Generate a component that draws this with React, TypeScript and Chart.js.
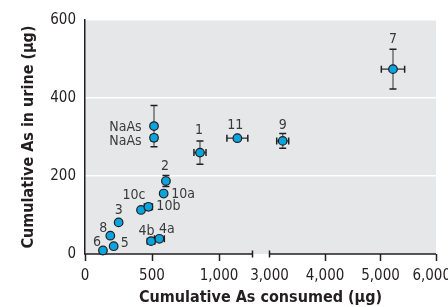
import React, { useEffect, useRef } from 'react';
import { Chart, LinearScale, registerables } from 'chart.js';

Chart.register(...registerables);

// ---------- data ----------
const pointLabels = ['6', '5', '8', '3', '4b', '4a', '10c', '10b', '10a', '2', 'NaAs', 'NaAs', '1', '11', '9', '7'];
const consumedUg = [134, 214, 189, 251, 493, 555, 418, 473, 587, 604, 515, 515, 858, 1137, 3238, 5225];
const urineUg = [9, 20, 47, 81, 33, 39, 113, 121, 155, 187, 328, 298, 260, 297, 290, 474];
const consumedErr = [0, 0, 0, 0, 28, 37, 0, 30, 0, 0, 0, 0, 45, 78, 108, 210];
const urineErr = [0, 0, 0, 0, 0, 0, 0, 8, 0, 14, 53, 8, 30, 0, 19, 51];
const xTickValues = [0, 500, 1000, 3000, 4000, 5000, 6000];
const yTickValues = [0, 200, 400, 600];
const xTitle = 'Cumulative As consumed (μg)';
const yTitle = 'Cumulative As in urine (μg)';

// ---------- styling / layout ----------
const FONT = "'Liberation Sans Narrow', 'DejaVu Sans Condensed', 'Arial Narrow', sans-serif";
const INK = '#231f20';
const labelOffsets: [number, number][] = [
  [-6, -8], [11, -3], [-7, -7.5], [0, -12.5], [-4.5, -10], [7.5, -9], [-7, -15], [20, 0],
  [19.5, 1], [-1, -15], [-28.5, 1.5], [-28.5, 4], [-1, -22], [-2, -13], [0, -16], [0, -30],
];

// broken x axis: [0, 1250] then gap then [3000, 6000]
const SEG1_MAX = 1250;
const SEG2_MIN = 3000;
const X_MAX = 6000;
const SEG1_END = 167.5 / 351;
const SEG2_START = 184.5 / 351;

function toDecimal(v: number): number {
  if (v <= SEG1_MAX) return (v / SEG1_MAX) * SEG1_END;
  if (v >= SEG2_MIN) return SEG2_START + ((v - SEG2_MIN) / (X_MAX - SEG2_MIN)) * (1 - SEG2_START);
  return SEG1_END + ((v - SEG1_MAX) / (SEG2_MIN - SEG1_MAX)) * (SEG2_START - SEG1_END);
}
function fromDecimal(d: number): number {
  if (d <= SEG1_END) return (d / SEG1_END) * SEG1_MAX;
  if (d >= SEG2_START) return SEG2_MIN + ((d - SEG2_START) / (1 - SEG2_START)) * (X_MAX - SEG2_MIN);
  return SEG1_MAX + ((d - SEG1_END) / (SEG2_START - SEG1_END)) * (SEG2_MIN - SEG1_MAX);
}

class BrokenLinearScale extends LinearScale {
  static id = 'brokenLinear';
  static defaults = LinearScale.defaults;
  buildTicks() {
    return xTickValues.map((value) => ({ value }));
  }
  getPixelForValue(value: any) {
    if (value === null || value === undefined) return NaN;
    return this.getPixelForDecimal(toDecimal(value));
  }
  getValueForPixel(pixel: number) {
    return fromDecimal(this.getDecimalForPixel(pixel));
  }
}
Chart.register(BrokenLinearScale as any);

const backgroundPlugin = {
  id: 'plotBackground',
  beforeDraw(chart: any) {
    const { ctx, chartArea } = chart;
    ctx.save();
    ctx.fillStyle = '#e6e7e8';
    ctx.fillRect(chartArea.left, chartArea.top, chartArea.right - chartArea.left, chartArea.bottom - chartArea.top);
    ctx.restore();
  },
};

const axisAndErrorPlugin = {
  id: 'brokenAxisErrors',
  beforeDatasetsDraw(chart: any) {
    const { ctx, chartArea, scales } = chart;
    const xs = scales.x;
    const ys = scales.y;
    ctx.save();
    // broken x axis line
    const b = chartArea.bottom;
    const p1 = xs.getPixelForValue(SEG1_MAX);
    const p2 = xs.getPixelForValue(SEG2_MIN);
    ctx.strokeStyle = INK;
    ctx.lineWidth = 1.5;
    ctx.beginPath();
    ctx.moveTo(chartArea.left - 0.75, b);
    ctx.lineTo(p1, b);
    ctx.moveTo(p2, b);
    ctx.lineTo(chartArea.right, b);
    ctx.moveTo(p1, b - 3.5);
    ctx.lineTo(p1, b + 3.5);
    ctx.moveTo(p2, b - 3.5);
    ctx.lineTo(p2, b + 3.5);
    ctx.stroke();

    // error bars
    const cap = 3.5;
    for (let i = 0; i < consumedUg.length; i++) {
      const px = xs.getPixelForValue(consumedUg[i]);
      const py = ys.getPixelForValue(urineUg[i]);
      if (urineErr[i] > 0) {
        const t = ys.getPixelForValue(urineUg[i] + urineErr[i]);
        const bo = ys.getPixelForValue(urineUg[i] - urineErr[i]);
        ctx.strokeStyle = '#6d6e70';
        ctx.lineWidth = 1.5;
        ctx.beginPath();
        ctx.moveTo(px, t);
        ctx.lineTo(px, bo);
        ctx.stroke();
        ctx.strokeStyle = INK;
        ctx.beginPath();
        ctx.moveTo(px - cap, t);
        ctx.lineTo(px + cap, t);
        ctx.moveTo(px - cap, bo);
        ctx.lineTo(px + cap, bo);
        ctx.stroke();
      }
      if (consumedErr[i] > 0) {
        const l = xs.getPixelForValue(consumedUg[i] - consumedErr[i]);
        const r = xs.getPixelForValue(consumedUg[i] + consumedErr[i]);
        ctx.strokeStyle = '#4d4d4f';
        ctx.lineWidth = 1.5;
        ctx.beginPath();
        ctx.moveTo(l, py);
        ctx.lineTo(r, py);
        ctx.stroke();
        ctx.strokeStyle = INK;
        ctx.beginPath();
        ctx.moveTo(l, py - cap);
        ctx.lineTo(l, py + cap);
        ctx.moveTo(r, py - cap);
        ctx.lineTo(r, py + cap);
        ctx.stroke();
      }
    }
    ctx.restore();
  },
  afterDatasetsDraw(chart: any) {
    const { ctx, scales } = chart;
    ctx.save();
    ctx.font = `14px ${FONT}`;
    ctx.fillStyle = '#3a3a3b';
    ctx.textAlign = 'center';
    ctx.textBaseline = 'middle';
    for (let i = 0; i < pointLabels.length; i++) {
      const px = scales.x.getPixelForValue(consumedUg[i]);
      const py = scales.y.getPixelForValue(urineUg[i]);
      const [dx, dy] = labelOffsets[i];
      ctx.fillText(pointLabels[i], px + dx, py + dy);
    }
    ctx.restore();
  },
};

export default function App() {
  const canvasRef = useRef<HTMLCanvasElement | null>(null);

  useEffect(() => {
    const canvas = canvasRef.current;
    if (!canvas) return;
    const chart = new Chart(canvas, {
      type: 'scatter',
      data: {
        datasets: [
          {
            data: consumedUg.map((x, i) => ({ x, y: urineUg[i] })),
            backgroundColor: '#0aa5df',
            borderColor: '#231f20',
            borderWidth: 1.2,
            pointRadius: 4.3,
            clip: false as any,
          },
        ],
      },
      options: {
        animation: false,
        responsive: false,
        events: [],
        layout: { padding: { top: 20, right: 12, left: 0, bottom: 0 } },
        plugins: { legend: { display: false }, tooltip: { enabled: false } },
        scales: {
          x: {
            type: 'brokenLinear' as any,
            min: 0,
            max: X_MAX,
            border: { display: false },
            grid: {
              display: true,
              drawOnChartArea: false,
              drawTicks: true,
              tickLength: 7,
              tickWidth: 1.5,
              tickColor: (c: any) => (c.tick && c.tick.value === SEG2_MIN ? 'rgba(0,0,0,0)' : INK),
            },
            ticks: {
              autoSkip: false,
              maxRotation: 0,
              padding: 6,
              color: INK,
              font: { family: FONT, size: 15 },
              callback: (v: any) => {
                const s = Number(v).toLocaleString('en-US');
                return Number(v) === X_MAX ? s + '  ' : s;
              },
            },
            title: {
              display: true,
              text: xTitle,
              color: INK,
              font: { family: FONT, size: 16, weight: 'bold' },
              padding: { top: 0, bottom: 0 },
            },
            afterFit: (s: any) => {
              s.height = 53;
              s.paddingLeft = 0;
              s.paddingRight = 0;
            },
          } as any,
          y: {
            type: 'linear',
            min: 0,
            max: 600,
            afterBuildTicks: (s: any) => {
              s.ticks = yTickValues.map((value) => ({ value }));
            },
            border: { display: true, color: INK, width: 1.5 },
            grid: {
              color: (c: any) => (c.tick && c.tick.value === 0 ? 'rgba(0,0,0,0)' : '#ffffff'),
              lineWidth: 1.5,
              drawTicks: false,
            },
            ticks: {
              padding: 9,
              color: INK,
              font: { family: FONT, size: 15 },
              callback: (v: any) => String(v),
            },
            title: {
              display: true,
              text: yTitle,
              color: INK,
              font: { family: FONT, size: 16, weight: 'bold' },
              padding: { top: 19, bottom: 0 },
            },
            afterFit: (s: any) => {
              s.width = 85;
              s.paddingTop = 0;
              s.paddingBottom = 0;
            },
          } as any,
        },
      },
      plugins: [backgroundPlugin, axisAndErrorPlugin],
    });
    return () => chart.destroy();
  }, []);

  return (
    <div style={{ position: 'absolute', left: 0, top: 0, width: 448, height: 307, background: '#ffffff' }}>
      <canvas ref={canvasRef} width={448} height={307} style={{ display: 'block' }} />
    </div>
  );
}
